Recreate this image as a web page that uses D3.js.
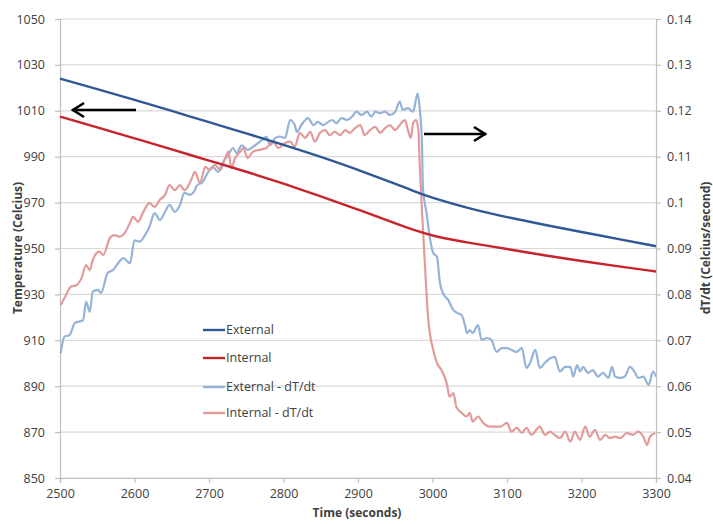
<!DOCTYPE html>
<html><head><meta charset="utf-8">
<script src="https://cdn.jsdelivr.net/npm/d3@7"></script>
<style>
body{margin:0;background:#fff;}
text{font-family:"Open Sans",sans-serif;fill:#404040;}
</style></head>
<body><svg id="c" width="713" height="524"></svg>
<script>
// ---- data ----
const seriesNames = ["External", "Internal", "External - dT/dt", "Internal - dT/dt"];
const xTicks = [2500,2600,2700,2800,2900,3000,3100,3200,3300];
const leftTicks = [850,870,890,910,930,950,970,990,1010,1030,1050];
const rightTicks = [0.04,0.05,0.06,0.07,0.08,0.09,0.1,0.11,0.12,0.13,0.14];

const tempTime = [2500,2550,2600,2650,2700,2750,2800,2850,2900,2950,2975,3000,3050,3100,3150,3200,3250,3300];
const externalTemp = [1024,1019.5,1014.8,1010,1005,1000.2,995.2,990,984.3,978.3,975,972,967.3,963.6,960.3,957.2,954.1,951];
const internalTemp = [1007.5,1002.8,998,993.2,988.3,983.5,978.3,972.8,967,961,958,955.4,952.4,949.8,947,944.5,942.2,940];

const extRateTime = [2501,2506,2513,2520,2526,2531,2535,2540,2544,2551,2555,2564,2571,2578,2585,2594,2600,2607,2614,2620,2627,2634,2641,2647,2654,2661,2667,2674,2681,2683,2692,2699,2705,2712,2719,2726,2732,2737,2744,2752,2762,2771,2777,2782,2789,2795,2802,2809,2815,2818,2824,2833,2840,2846,2853,2865,2871,2878,2885,2892,2898,2905,2912,2918,2923,2930,2936,2943,2950,2956,2960,2967,2974,2980,2983,2986,2987,2992,2997,3001,3006,3010,3014,3021,3028,3034,3039,3044,3046,3050,3054,3061,3066,3073,3079,3086,3093,3100,3106,3113,3120,3126,3131,3138,3144,3151,3158,3164,3171,3178,3185,3189,3194,3198,3202,3209,3215,3222,3229,3236,3241,3245,3252,3258,3265,3272,3276,3283,3290,3296,3300];
const extRate = [0.0672,0.0708,0.0712,0.0738,0.0741,0.0744,0.0784,0.0762,0.0806,0.0810,0.0803,0.0847,0.0853,0.0868,0.0879,0.0868,0.0918,0.0915,0.0929,0.0947,0.0977,0.0962,0.0980,0.0995,0.0980,0.0995,0.1021,0.1017,0.1027,0.1036,0.1046,0.1067,0.1078,0.1067,0.1089,0.1104,0.1119,0.1108,0.1125,0.1115,0.1125,0.1136,0.1144,0.1125,0.1141,0.1144,0.1141,0.1180,0.1169,0.1154,0.1169,0.1184,0.1169,0.1176,0.1169,0.1180,0.1173,0.1184,0.1180,0.1187,0.1198,0.1191,0.1198,0.1187,0.1198,0.1195,0.1198,0.1191,0.1198,0.1220,0.1202,0.1206,0.1198,0.1238,0.1202,0.1122,0.1035,0.0977,0.0918,0.0890,0.0882,0.0825,0.0803,0.0788,0.0766,0.0759,0.0755,0.0730,0.0716,0.0722,0.0716,0.0733,0.0701,0.0705,0.0701,0.0675,0.0683,0.0683,0.0679,0.0675,0.0683,0.0640,0.0651,0.0679,0.0640,0.0651,0.0661,0.0664,0.0632,0.0642,0.0642,0.0621,0.0646,0.0632,0.0642,0.0629,0.0635,0.0621,0.0629,0.0618,0.0642,0.0621,0.0618,0.0621,0.0642,0.0629,0.0618,0.0621,0.0603,0.0632,0.0621];

const intRateTime = [2501,2506,2515,2522,2529,2535,2540,2544,2553,2558,2567,2573,2580,2587,2594,2598,2605,2611,2620,2627,2634,2641,2647,2654,2661,2667,2676,2681,2688,2695,2701,2708,2715,2721,2726,2730,2735,2742,2746,2752,2759,2768,2777,2786,2793,2802,2809,2815,2822,2829,2836,2842,2849,2856,2862,2869,2876,2883,2889,2896,2903,2909,2916,2923,2930,2936,2943,2950,2956,2963,2967,2971,2974,2978,2981,2983,2986,2990,2994,3001,3006,3012,3019,3023,3028,3032,3039,3046,3050,3054,3061,3068,3077,3091,3100,3106,3113,3120,3126,3133,3144,3151,3158,3164,3171,3178,3185,3191,3198,3205,3211,3218,3225,3232,3238,3245,3252,3261,3269,3276,3283,3288,3292,3299];
const intRate = [0.0777,0.0792,0.0817,0.0820,0.0836,0.0864,0.0853,0.0875,0.0893,0.0886,0.0923,0.0929,0.0926,0.0934,0.0956,0.0969,0.0958,0.0977,0.0999,0.0991,0.1006,0.1017,0.1038,0.1027,0.1038,0.1027,0.1049,0.1067,0.1043,0.1078,0.1071,0.1082,0.1071,0.1093,0.1111,0.1075,0.1097,0.1111,0.1119,0.1097,0.1111,0.1115,0.1119,0.1133,0.1119,0.1130,0.1133,0.1122,0.1152,0.1141,0.1154,0.1133,0.1152,0.1158,0.1147,0.1154,0.1147,0.1158,0.1152,0.1162,0.1169,0.1147,0.1158,0.1165,0.1152,0.1162,0.1169,0.1158,0.1169,0.1180,0.1158,0.1141,0.1173,0.1180,0.1158,0.1078,0.0977,0.0860,0.0751,0.0679,0.0651,0.0635,0.0607,0.0577,0.0585,0.0555,0.0542,0.0534,0.0542,0.0523,0.0534,0.0520,0.0512,0.0512,0.0520,0.0501,0.0509,0.0498,0.0509,0.0494,0.0512,0.0494,0.0501,0.0494,0.0487,0.0501,0.0479,0.0501,0.0483,0.0512,0.0490,0.0505,0.0483,0.0494,0.0487,0.0490,0.0487,0.0498,0.0494,0.0501,0.0490,0.0472,0.0490,0.0498];

// ---- chart ----
const svg = d3.select("#c");
const L = 60, R = 656, T = 19, B = 478;
const x = d3.scaleLinear().domain([2500,3300]).range([L,R]);
const yL = d3.scaleLinear().domain([850,1050]).range([B,T]);
const yR = d3.scaleLinear().domain([0.04,0.14]).range([B,T]);

const colors = ["#2F5996","#C8232B","#95B3D7","#E39A9A"];

// gridlines
svg.append("g").selectAll("line").data(leftTicks).join("line")
  .attr("x1",L).attr("x2",R).attr("y1",d=>yL(d)).attr("y2",d=>yL(d))
  .attr("stroke","#D9D9D9").attr("stroke-width",1.2);

// axes
const axColor = "#BFBFBF";
const gx = svg.append("g").attr("transform",`translate(0,${B})`)
  .call(d3.axisBottom(x).tickValues(xTicks).tickSize(5).tickPadding(6).tickFormat(d3.format("d")));
const gl = svg.append("g").attr("transform",`translate(${L},0)`)
  .call(d3.axisLeft(yL).tickValues(leftTicks).tickSize(5).tickPadding(10).tickFormat(d3.format("d")));
const gr = svg.append("g").attr("transform",`translate(${R},0)`)
  .call(d3.axisRight(yR).tickValues(rightTicks).tickSize(5).tickPadding(6).tickFormat(d=>String(+d.toFixed(2))));
[gx,gl,gr].forEach(g=>{
  g.selectAll("path,line").attr("stroke",axColor).attr("stroke-width",1.2);
  g.selectAll("text").style("font-family","'Open Sans',sans-serif").style("font-size","12.5px").attr("fill","#404040");
});

// series
const rateLine = d3.line().curve(d3.curveMonotoneX);
const tempLine = d3.line().curve(d3.curveBasis);
const drawSeries = (t,v,ys,color,w,gen)=>{
  const pts = t.map((d,i)=>[x(d), ys(v[i])]);
  svg.append("path").attr("d",gen(pts)).attr("fill","none")
    .attr("stroke",color).attr("stroke-width",w).attr("stroke-linejoin","round");
};
drawSeries(extRateTime, extRate, yR, colors[2], 2.2, rateLine);
drawSeries(intRateTime, intRate, yR, colors[3], 2.2, rateLine);
drawSeries(tempTime, externalTemp, yL, colors[0], 2.4, tempLine);
drawSeries(tempTime, internalTemp, yL, colors[1], 2.4, tempLine);

// arrows (annotations)
const arrowG = svg.append("g").attr("stroke","#000").attr("stroke-width",2.6).attr("fill","none");
arrowG.append("line").attr("x1",136).attr("y1",110).attr("x2",72).attr("y2",110);
arrowG.append("path").attr("d","M84,103 L73,110 L84,117");
arrowG.append("line").attr("x1",424).attr("y1",134).attr("x2",486).attr("y2",134);
arrowG.append("path").attr("d","M474,127 L485,134 L474,141");

// legend
const legY = [330,358,387,413];
const lg = svg.append("g");
seriesNames.forEach((n,i)=>{
  lg.append("line").attr("x1",203).attr("x2",225).attr("y1",legY[i]).attr("y2",legY[i])
    .attr("stroke",colors[i]).attr("stroke-width",2.4);
  lg.append("text").attr("x",226).attr("y",legY[i]).attr("dy","0.35em")
    .style("font-size","12.5px").text(n);
});

// axis titles
svg.append("text").attr("x",357).attr("y",517).attr("text-anchor","middle")
  .style("font-size","12px").style("font-weight","bold").text("Time (seconds)");
svg.append("text").attr("transform","translate(18,248) rotate(-90)").attr("text-anchor","middle")
  .attr("dy","0.35em").style("font-size","12px").style("font-weight","bold").text("Temperature (Celcius)");
svg.append("text").attr("transform","translate(706,248) rotate(-90)").attr("text-anchor","middle")
  .attr("dy","0.35em").style("font-size","12px").style("font-weight","bold").text("dT/dt (Celcius/second)");
</script></body></html>
